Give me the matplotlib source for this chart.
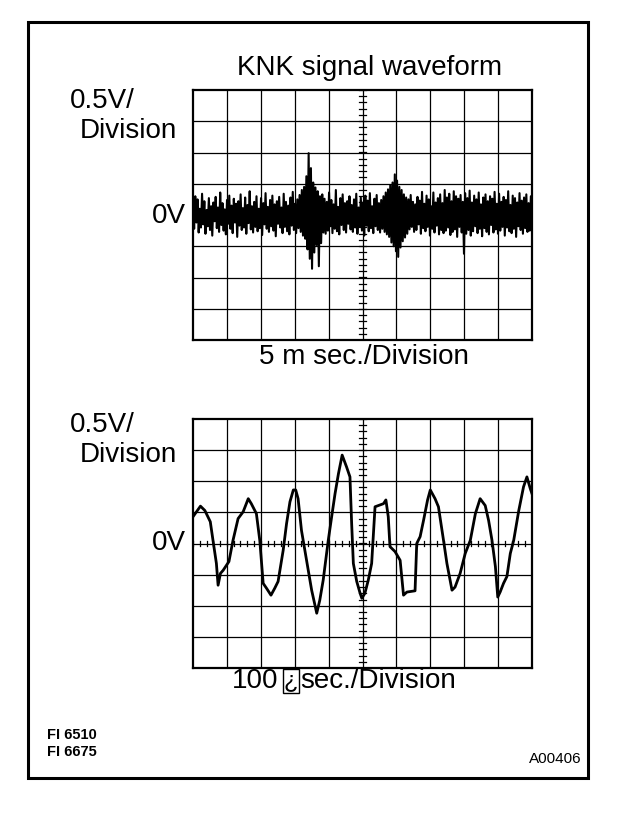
import matplotlib.pyplot as plt
import matplotlib.patches as patches
import numpy as np

plt.rcParams['font.family'] = ['Liberation Sans', 'DejaVu Sans']

# top trace: knock sensor noise, volts, 0..50 ms (5 ms / division)
knk_noise = [
    0.18, -0.22, 0.30, -0.12, 0.25, -0.28, 0.10, -0.20, 0.34, -0.15, 0.22, -0.30, 0.08, -0.18, 0.27, -0.24, 0.14, -0.33, 0.20, -0.10,
    0.29, -0.21, 0.12, -0.27, 0.36, -0.16, 0.19, -0.25, 0.09, -0.31, 0.24, -0.14, 0.31, -0.22, 0.15, -0.29, 0.26, -0.12, 0.18, -0.35,
    0.22, -0.17, 0.33, -0.24, 0.11, -0.20, 0.28, -0.30, 0.16, -0.13, 0.38, -0.23, 0.14, -0.28, 0.21, -0.19, 0.30, -0.26, 0.10, -0.21,
    0.27, -0.32, 0.19, -0.15, 0.35, -0.22, 0.13, -0.27, 0.24, -0.18, 0.31, -0.25, 0.17, -0.34, 0.22, -0.14, 0.29, -0.20, 0.12, -0.29,
    0.34, -0.19, 0.21, -0.26, 0.15, -0.31, 0.28, -0.17, 0.37, -0.24, 0.18, -0.29, 0.25, -0.21, 0.32, -0.27, 0.40, -0.33, 0.45, -0.38,
    0.62, -0.55, 0.99, -0.70, 0.75, -0.86, 0.52, -0.60, 0.44, -0.48, 0.38, -0.82, 0.30, -0.45, 0.33, -0.28, 0.26, -0.30, 0.21, -0.25,
    0.36, -0.18, 0.24, -0.29, 0.17, -0.22, 0.40, -0.26, 0.13, -0.31, 0.27, -0.16, 0.33, -0.24, 0.19, -0.28, 0.22, -0.14, 0.30, -0.23,
    0.16, -0.27, 0.25, -0.20, 0.34, -0.30, 0.12, -0.19, 0.28, -0.25, 0.20, -0.33, 0.31, -0.17, 0.23, -0.26, 0.35, -0.21, 0.14, -0.29,
    0.26, -0.18, 0.32, -0.24, 0.19, -0.28, 0.24, -0.22, 0.30, -0.27, 0.36, -0.31, 0.41, -0.35, 0.48, -0.44, 0.52, -0.50, 0.65, -0.58,
    0.55, -0.67, 0.45, -0.52, 0.40, -0.42, 0.33, -0.36, 0.28, -0.30, 0.25, -0.23, 0.32, -0.19, 0.21, -0.27, 0.17, -0.24, 0.29, -0.15,
    0.23, -0.30, 0.37, -0.21, 0.18, -0.26, 0.31, -0.19, 0.25, -0.33, 0.14, -0.22, 0.36, -0.28, 0.20, -0.17, 0.27, -0.31, 0.33, -0.24,
    0.19, -0.29, 0.40, -0.25, 0.28, -0.20, 0.34, -0.32, 0.22, -0.27, 0.38, -0.23, 0.30, -0.35, 0.26, -0.19, 0.32, -0.28, 0.21, -0.62,
    0.35, -0.30, 0.27, -0.24, 0.39, -0.33, 0.20, -0.26, 0.31, -0.18, 0.25, -0.29, 0.36, -0.22, 0.17, -0.34, 0.28, -0.21, 0.33, -0.27,
    0.22, -0.31, 0.30, -0.16, 0.26, -0.28, 0.37, -0.23, 0.18, -0.30, 0.34, -0.25, 0.21, -0.19, 0.29, -0.33, 0.24, -0.20, 0.38, -0.26,
    0.16, -0.29, 0.31, -0.22, 0.27, -0.35, 0.20, -0.18, 0.35, -0.24, 0.23, -0.30, 0.28, -0.21, 0.33, -0.27, 0.19, -0.25, 0.30, -0.22,
]

# bottom trace: zoomed waveform, time in microseconds (100 us / division), volts
wave_t = [0, 22, 35, 51, 59, 69, 74, 81, 89, 106, 118, 133, 148, 163, 172, 187, 197, 207, 217, 230,
          241, 251, 266, 276, 286, 296, 303, 310, 320, 335, 350, 365, 374, 384, 399, 409, 419, 429, 440, 453,
          463, 468, 473, 483, 493, 498, 507, 517, 527, 537, 547, 562, 569, 576, 581, 596, 611, 621, 631, 655,
          660, 670, 680, 692, 700, 714, 724, 739, 749, 764, 773, 788, 803, 818, 833, 847, 862, 872, 882, 892,
          899, 906, 916, 926, 936, 946, 961, 975, 985, 995, 1000]
wave_v = [0.43, 0.60, 0.53, 0.35, 0.05, -0.32, -0.67, -0.48, -0.43, -0.29, 0.05, 0.40, 0.51, 0.72, 0.64, 0.48, 0.05, -0.64, -0.72, -0.83,
          -0.72, -0.61, -0.11, 0.32, 0.67, 0.86, 0.86, 0.72, 0.21, -0.27, -0.75, -1.12, -0.91, -0.59, 0.05, 0.43, 0.80, 1.12, 1.42, 1.23,
          1.07, 0.32, -0.32, -0.61, -0.80, -0.88, -0.80, -0.59, -0.32, 0.59, 0.61, 0.64, 0.70, 0.43, -0.05, -0.13, -0.27, -0.83, -0.78, -0.76,
          0.00, 0.11, 0.37, 0.70, 0.86, 0.72, 0.59, 0.05, -0.32, -0.75, -0.70, -0.48, -0.16, 0.05, 0.48, 0.72, 0.61, 0.37, 0.05, -0.37,
          -0.86, -0.78, -0.64, -0.53, -0.16, 0.05, 0.53, 0.91, 1.07, 0.88, 0.80]

W, H = 624, 818
fig = plt.figure(figsize=(W / 100, H / 100), dpi=100)


def scope(ax, xmax, show_hcenter):
    ax.set_xlim(0, xmax)
    ax.set_ylim(-2, 2)
    xdiv = xmax / 10
    for i in range(1, 10):
        ax.axvline(i * xdiv, color='black', lw=0.9, zorder=1)
    for j in np.arange(-1.5, 2, 0.5):
        ax.axhline(j, color='black', lw=0.9, zorder=1)
    # centre graticule with minor ticks
    xm = xmax / 2
    for y in np.arange(-2, 2.001, 0.1):
        ax.plot([xm - xdiv * 0.09, xm + xdiv * 0.09], [y, y], color='black', lw=0.9, zorder=1)
    if show_hcenter:
        for x in np.arange(0, xmax + 0.001, xdiv / 5):
            ax.plot([x, x], [-0.04, 0.04], color='black', lw=0.9, zorder=1)
    ax.set_xticks([])
    ax.set_yticks([])
    for s in ax.spines.values():
        s.set_linewidth(1.6)


ax1 = fig.add_axes([193 / W, 1 - 340 / H, 339 / W, 250 / H])
scope(ax1, 50, False)
t1 = np.linspace(0, 50, len(knk_noise))
ax1.plot(t1, knk_noise, color='black', lw=1.5, zorder=3)

ax2 = fig.add_axes([193 / W, 1 - 668 / H, 339 / W, 249 / H])
scope(ax2, 1000, True)
ax2.plot(wave_t, wave_v, color='black', lw=2.0, zorder=3)

# outer frame
fig.patches.append(patches.Rectangle((28 / W, 1 - 778 / H), 560 / W, 756 / H,
                                     transform=fig.transFigure, fill=False,
                                     edgecolor='black', lw=2.2))

fs = 20
fig.text(370 / W, 1 - 68 / H, 'KNK signal waveform', ha='center', va='center', fontsize=fs)
fig.text(70 / W, 1 - 101 / H, '0.5V/', ha='left', va='center', fontsize=fs)
fig.text(80 / W, 1 - 131 / H, 'Division', ha='left', va='center', fontsize=fs)
fig.text(186 / W, 1 - 216 / H, '0V', ha='right', va='center', fontsize=fs)
fig.text(364 / W, 1 - 357 / H, '5 m sec./Division', ha='center', va='center', fontsize=fs)

fig.text(70 / W, 1 - 425 / H, '0.5V/', ha='left', va='center', fontsize=fs)
fig.text(80 / W, 1 - 455 / H, 'Division', ha='left', va='center', fontsize=fs)
fig.text(186 / W, 1 - 543 / H, '0V', ha='right', va='center', fontsize=fs)
fig.text(278 / W, 1 - 681 / H, '100', ha='right', va='center', fontsize=fs)
fig.text(291 / W, 1 - 681 / H, '\u00bf', ha='center', va='center', fontsize=fs - 3,
         bbox=dict(boxstyle='square,pad=0.05', fc='white', ec='black', lw=1.0))
fig.text(300 / W, 1 - 681 / H, 'sec./Division', ha='left', va='center', fontsize=fs)

fig.text(47 / W, 1 - 735 / H, 'FI 6510', ha='left', va='center', fontsize=10.5, fontweight='bold')
fig.text(47 / W, 1 - 752 / H, 'FI 6675', ha='left', va='center', fontsize=10.5, fontweight='bold')
fig.text(582 / W, 1 - 759 / H, 'A00406', ha='right', va='center', fontsize=11)

fig.savefig('out.png', dpi=100)
